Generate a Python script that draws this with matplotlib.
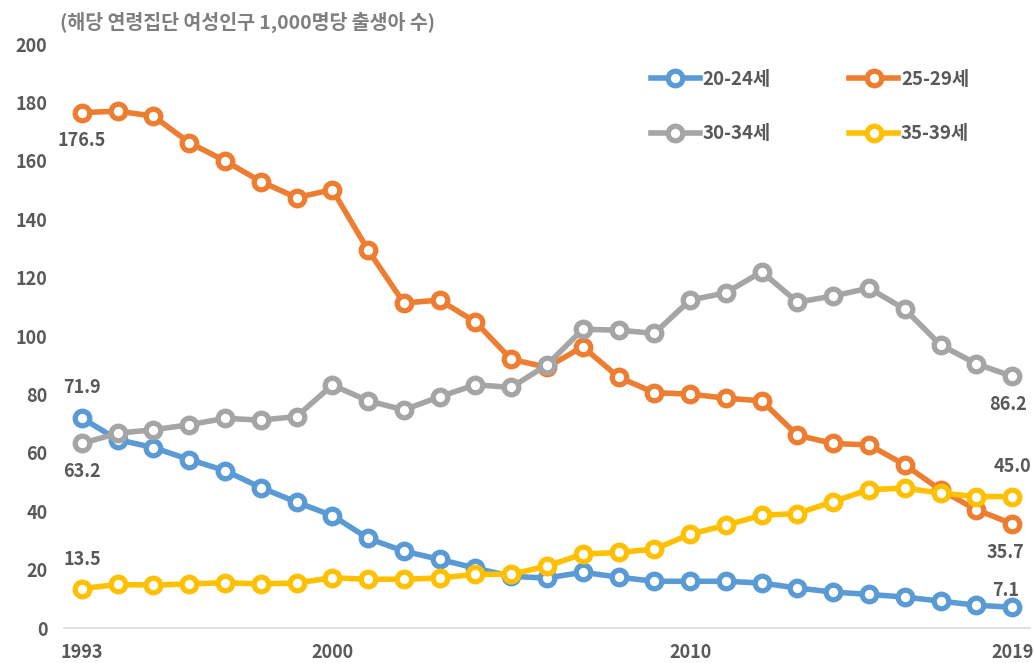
import matplotlib.pyplot as plt

plt.rcParams['font.family'] = ['Noto Sans CJK KR', 'DejaVu Sans']

# 연도
years = list(range(1993, 2020))

# 연령별 출산율 (해당 연령집단 여성인구 1,000명당 출생아 수)
age_20_24 = [71.9, 64.5, 61.8, 57.7, 53.9, 48.1, 43.1, 38.5, 30.7, 26.3, 23.5, 20.5,
             17.7, 17.1, 19.1, 17.4, 16.0, 16.0, 16.0, 15.4, 13.7, 12.3, 11.5, 10.6,
             9.2, 7.8, 7.1]
age_25_29 = [176.5, 177.0, 175.3, 166.2, 160.0, 152.9, 147.4, 150.1, 129.4, 111.3, 112.3,
             104.8, 92.0, 89.3, 96.3, 85.9, 80.6, 80.1, 78.7, 77.8, 66.0, 63.2, 62.7,
             55.9, 47.3, 40.5, 35.7]
age_30_34 = [63.2, 66.7, 67.9, 69.6, 71.8, 71.2, 72.4, 83.2, 77.8, 74.7, 79.2, 83.3,
             82.4, 90.1, 102.3, 102.0, 100.9, 112.3, 114.8, 122.0, 111.6, 113.7, 116.4,
             109.2, 96.9, 90.5, 86.2]
age_35_39 = [13.5, 14.9, 14.7, 15.1, 15.5, 15.1, 15.4, 17.2, 16.7, 16.7, 17.1, 18.4,
             18.4, 21.2, 25.3, 25.9, 27.0, 32.1, 35.2, 38.6, 39.2, 43.3, 47.4, 47.9,
             46.2, 45.0, 45.0]

labels = ['20-24세', '25-29세', '30-34세', '35-39세']
colors = ['#5B9BD5', '#ED7D31', '#A5A5A5', '#FFC000']
series = [age_20_24, age_25_29, age_30_34, age_35_39]

text_color = '#595959'

fig = plt.figure(figsize=(10.34, 6.63), dpi=100)
ax = fig.add_axes([64 / 1034, 35 / 663, 966 / 1034, 584 / 663])

lines = []
for vals, lab, col in zip(series, labels, colors):
    ln, = ax.plot(years, vals, color=col, lw=4, marker='o', markersize=10.5,
                  markerfacecolor='white', markeredgecolor=col, markeredgewidth=3.8,
                  label=lab, solid_joinstyle='round')
    lines.append(ln)

# 시작/끝 값 라벨
lab_kw = dict(fontsize=13, fontweight='bold', color=text_color)
ax.annotate(f'{age_25_29[0]:.1f}', (years[0], age_25_29[0]), xytext=(0, -20),
            textcoords='offset points', ha='center', va='center', **lab_kw)
ax.annotate(f'{age_20_24[0]:.1f}', (years[0], age_20_24[0]), xytext=(0, 22),
            textcoords='offset points', ha='center', va='center', **lab_kw)
ax.annotate(f'{age_30_34[0]:.1f}', (years[0], age_30_34[0]), xytext=(0, -20),
            textcoords='offset points', ha='center', va='center', **lab_kw)
ax.annotate(f'{age_35_39[0]:.1f}', (years[0], age_35_39[0]), xytext=(0, 21),
            textcoords='offset points', ha='center', va='center', **lab_kw)
ax.annotate(f'{age_30_34[-1]:.1f}', (years[-1], age_30_34[-1]), xytext=(-3, -20),
            textcoords='offset points', ha='center', va='center', **lab_kw)
ax.annotate(f'{age_35_39[-1]:.1f}', (years[-1], age_35_39[-1]), xytext=(0, 22),
            textcoords='offset points', ha='center', va='center', **lab_kw)
ax.annotate(f'{age_25_29[-1]:.1f}', (years[-1], age_25_29[-1]), xytext=(-5, -21),
            textcoords='offset points', ha='center', va='center', **lab_kw)
ax.annotate(f'{age_20_24[-1]:.1f}', (years[-1], age_20_24[-1]), xytext=(-5, 12),
            textcoords='offset points', ha='center', va='center', **lab_kw)

ax.set_xlim(1992.5, 2019.5)
ax.set_ylim(0, 200)
ax.set_xticks([1993, 2000, 2010, 2019])
ax.set_yticks(range(0, 201, 20))

for s in ['top', 'right', 'left']:
    ax.spines[s].set_visible(False)
ax.spines['bottom'].set_color('#D9D9D9')
ax.spines['bottom'].set_linewidth(1.2)
ax.tick_params(axis='both', length=0, labelsize=13, labelcolor=text_color)
ax.tick_params(axis='y', pad=12)
ax.tick_params(axis='x', pad=11)
for t in ax.get_xticklabels() + ax.get_yticklabels():
    t.set_fontweight('bold')

fig.text(60 / 1034, 1 - 22 / 663, '(해당 연령집단 여성인구 1,000명당 출생아 수)',
         fontsize=14, fontweight='bold', color='#7F7F7F', va='center', ha='left')

# 범례: 행 우선 배치 (20-24, 25-29 / 30-34, 35-39)
order = [0, 2, 1, 3]
leg = ax.legend(handles=[lines[i] for i in order], ncol=2, loc='upper left',
                bbox_to_anchor=(0.59, 0.985), frameon=False, fontsize=13.5,
                handlelength=2.6, columnspacing=4.2, labelspacing=1.9,
                handletextpad=0.15)
for t in leg.get_texts():
    t.set_color(text_color)
    t.set_fontweight('bold')

fig.savefig('out.png', dpi=100, facecolor='white')
